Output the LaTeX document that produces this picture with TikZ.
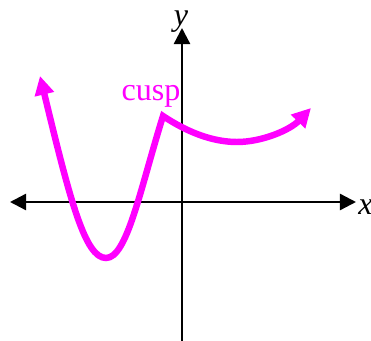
\documentclass[tikz,border=0pt]{standalone}
\usepackage{fontspec}
\setmainfont{Liberation Serif}
\usetikzlibrary{arrows.meta}
\definecolor{curvemag}{RGB}{255,0,255}

\begin{document}
\begin{tikzpicture}[
    x=0.025cm, y=-0.025cm,
    axis/.style={line width=1.7pt, black, >={Triangle[length=0.4cm, width=0.4cm]}},
    curve/.style={line width=4.6pt, curvemag, line join=miter, >={Triangle[length=0.47cm, width=0.47cm]}, <->},
    lbl/.style={font=\fontsize{22.8}{26}\selectfont, inner sep=0pt, anchor=base}
]
\useasboundingbox (0,0) rectangle (371,341);
% axes
\coordinate (xl) at (10,202);
\coordinate (xr) at (356,202);
\coordinate (yb) at (182,341);
\coordinate (yt) at (182,28);
\draw[axis, <->] (xl) -- (xr);
\draw[axis, ->] (yb) -- (yt);
\node[lbl, anchor=base west] (xlbl) at (358,215) {\textit{x}};
\node[lbl] (ylbl) at (181,26) {\textit{y}};

% curve with the cusp
\coordinate (lt) at (40,76);
\coordinate (lo) at (106,258);
\coordinate (cp) at (163,116);
\coordinate (mn) at (237,142);
\coordinate (rt) at (311,108);
\draw[curve] (lt) .. controls (70,200) and (85,258) .. (lo)
    .. controls (127,258) and (140,190) .. (cp)
    .. controls (190,134) and (215,142) .. (mn)
    .. controls (262,142) and (290,130) .. (rt);
\node[lbl, curvemag] (cusplbl) at (151,100.5) {cusp};
\end{tikzpicture}
\end{document}
